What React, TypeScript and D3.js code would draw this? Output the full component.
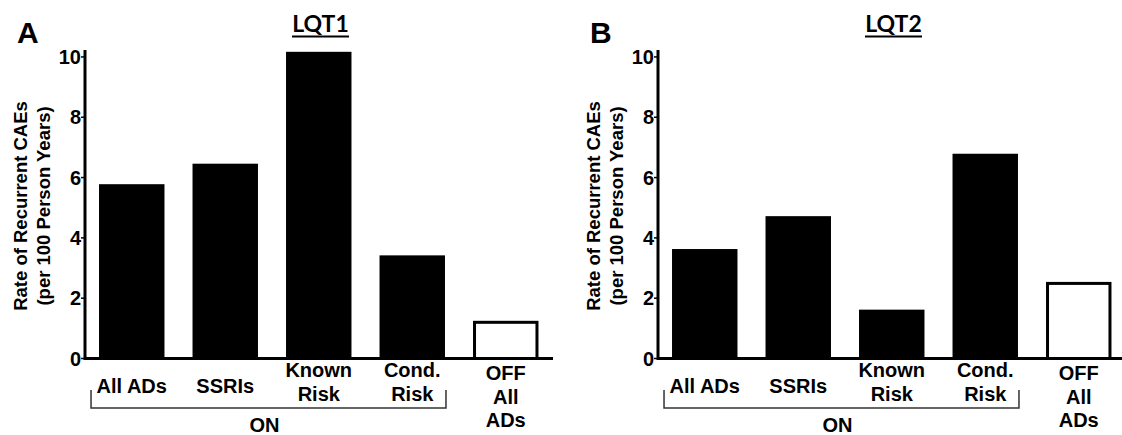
import React from "react";
import * as d3 from "d3";

const categoryLines: string[][] = [
  ["All ADs"],
  ["SSRIs"],
  ["Known", "Risk"],
  ["Cond.", "Risk"],
  ["OFF", "All", "ADs"],
];
const categories = ["All ADs", "SSRIs", "Known Risk", "Cond. Risk", "OFF All ADs"];
const offCategory = "OFF All ADs";
const lqt1Values = [5.78, 6.46, 10.17, 3.42, 1.2];
const lqt2Values = [3.63, 4.72, 1.62, 6.79, 2.49];
const yTicks = [0, 2, 4, 6, 8, 10];
const panelTitles = ["LQT1", "LQT2"];
const panelLetters = ["A", "B"];
const yLabelLines = ["Rate of Recurrent CAEs", "(per 100 Person Years)"];
const bracketLabel = "ON";
const onCategories = ["All ADs", "SSRIs", "Known Risk", "Cond. Risk"];

const ARIAL = "'Liberation Sans', Arial, sans-serif";

type PanelProps = {
  axisX: number;
  axisRight: number;
  values: number[];
  title: string;
  letter: string;
};

function Panel({ axisX, axisRight, values, title, letter }: PanelProps) {
  const y = d3.scaleLinear().domain([0, 10.23]).range([358.5, 50]);
  const x = d3
    .scaleBand<string>()
    .domain(categories)
    .range([axisX, axisX + 5 * 93.5])
    .paddingInner(0.3)
    .paddingOuter(0.15);
  const bw = x.bandwidth();
  const bx0 = (x(onCategories[0]) as number) - 8;
  const bx1 = (x(onCategories[onCategories.length - 1]) as number) + bw + 1;
  const titleX = axisX + 235.5;
  return (
    <g>
      <text x={axisX - 68} y={43} fontFamily={ARIAL} fontWeight="bold" fontSize={30} fill="#000">
        {letter}
      </text>
      <text
        x={titleX}
        y={32}
        textAnchor="middle"
        fontFamily="Lato, 'Open Sans', sans-serif"
        fontWeight="bold"
        fontSize={23}
        fill="#000"
      >
        {title}
      </text>
      <line x1={titleX - 28.5} x2={titleX + 28.5} y1={36.5} y2={36.5} stroke="#000" strokeWidth={2} />
      {yLabelLines.map((t, i) => (
        <text
          key={t}
          transform={`translate(${axisX - 65 + i * 23},206) rotate(-90)`}
          textAnchor="middle"
          dominantBaseline="central"
          fontFamily={ARIAL}
          fontWeight="bold"
          fontSize={18.5}
          fill="#000"
        >
          {t}
        </text>
      ))}
      {categories.map((c, i) => {
        const isOff = c === offCategory;
        const x0 = x(c) as number;
        const top = y(values[i]);
        return isOff ? (
          <rect
            key={c}
            x={x0 + 1.5}
            y={top}
            width={bw - 3}
            height={y(0) - top}
            fill="#fff"
            stroke="#000"
            strokeWidth={3}
          />
        ) : (
          <rect key={c} x={x0} y={top} width={bw} height={y(0) - top} fill="#000" />
        );
      })}
      <line x1={axisX} x2={axisX} y1={50} y2={360} stroke="#000" strokeWidth={3} />
      {yTicks.map((t) => (
        <g key={t}>
          <line x1={axisX - 4} x2={axisX} y1={y(t)} y2={y(t)} stroke="#000" strokeWidth={1.5} />
          <text
            x={axisX - 4}
            y={y(t)}
            textAnchor="end"
            dominantBaseline="central"
            fontFamily={ARIAL}
            fontWeight="bold"
            fontSize={20}
            fill="#000"
          >
            {t}
          </text>
        </g>
      ))}
      <line x1={axisX} x2={axisRight} y1={y(0)} y2={y(0)} stroke="#000" strokeWidth={3} />
      {categories.map((c, i) => {
        const lines = categoryLines[i];
        const first = lines.length === 1 ? 393 : lines.length === 2 ? 377 : 380;
        const cx = (x(c) as number) + bw / 2;
        return (
          <text key={c} textAnchor="middle" fontFamily={ARIAL} fontWeight="bold" fontSize={20} fill="#000">
            {lines.map((l, j) => (
              <tspan key={j} x={cx} y={first + j * 23.7}>
                {l}
              </tspan>
            ))}
          </text>
        );
      })}
      <path d={`M${bx0},390 V408 H${bx1} V390`} fill="none" stroke="#333" strokeWidth={1.5} />
      <text
        x={(bx0 + bx1) / 2 - 4}
        y={432}
        textAnchor="middle"
        fontFamily={ARIAL}
        fontWeight="bold"
        fontSize={20}
        fill="#000"
      >
        {bracketLabel}
      </text>
    </g>
  );
}

export default function App() {
  return (
    <svg width={1122} height={435} style={{ position: "absolute", left: 0, top: 0, background: "#fff" }}>
      <rect width={1122} height={435} fill="#fff" />
      <Panel axisX={85} axisRight={553} values={lqt1Values} title={panelTitles[0]} letter={panelLetters[0]} />
      <Panel axisX={658} axisRight={1122} values={lqt2Values} title={panelTitles[1]} letter={panelLetters[1]} />
    </svg>
  );
}
